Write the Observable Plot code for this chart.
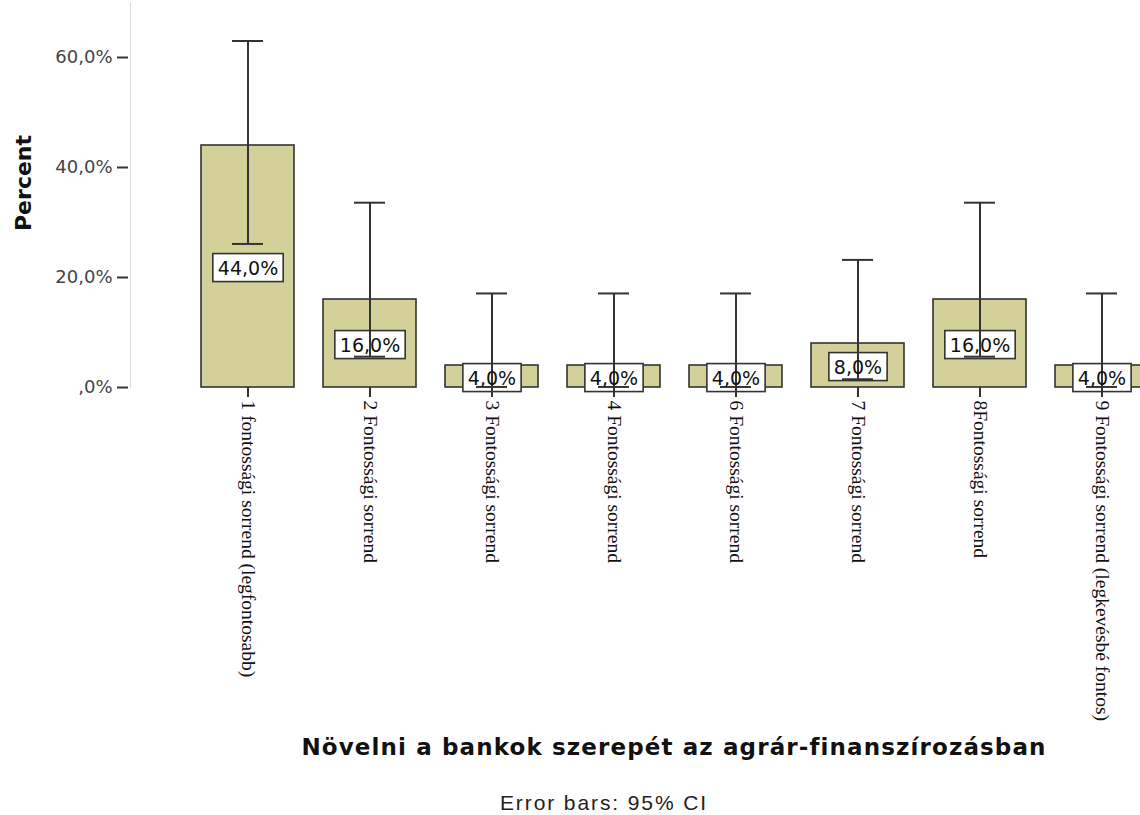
<!DOCTYPE html>
<html><head><meta charset="utf-8">
<script src="https://cdn.jsdelivr.net/npm/d3@7"></script>
<script src="https://cdn.jsdelivr.net/npm/@observablehq/plot@0.6"></script>
<style>
html,body{margin:0;padding:0;background:#fff;overflow:hidden;width:1140px;height:815px;}
#wrap{position:relative;width:1140px;height:815px;overflow:hidden;}
#chart{position:absolute;left:0;top:0;}
#title{position:absolute;left:130px;width:1088px;top:736px;text-align:center;font-family:"DejaVu Sans";font-weight:bold;font-size:23px;line-height:23px;letter-spacing:1.12px;color:#111;white-space:nowrap;}
#caption{position:absolute;left:400px;width:408px;top:792px;text-align:center;font-family:"Liberation Sans";font-size:21px;line-height:21px;letter-spacing:1.9px;color:#222;white-space:nowrap;}
</style>
</head><body>
<div id="wrap">
  <div id="chart"></div>
  <div id="title"></div>
  <div id="caption"></div>
</div>
<script>
const categories = [
  "1 fontossági sorrend (legfontosabb)",
  "2 Fontossági sorrend",
  "3 Fontossági sorrend",
  "4 Fontossági sorrend",
  "6 Fontossági sorrend",
  "7 Fontossági sorrend",
  "8Fontossági sorrend",
  "9 Fontossági sorrend (legkevésbé fontos)"
];
const percents = [44.0, 16.0, 4.0, 4.0, 4.0, 8.0, 16.0, 4.0];
const ciLow  = [26.1, 5.6, 0.1, 0.1, 0.1, 1.5, 5.6, 0.1];
const ciHigh = [63.0, 33.6, 17.1, 17.1, 17.1, 23.2, 33.6, 17.1];
const valueLabels = ["44,0%", "16,0%", "4,0%", "4,0%", "4,0%", "8,0%", "16,0%", "4,0%"];
const yTicks = [0, 20, 40, 60];
const yTickLabels = [",0%", "20,0%", "40,0%", "60,0%"];
const yAxisTitle = "Percent";
const xAxisTitle = "Növelni a bankok szerepét az agrár-finanszírozásban";
const captionText = "Error bars: 95% CI";

const data = categories.map((c, i) => ({cat: c, value: percents[i], lo: ciLow[i], hi: ciHigh[i], label: valueLabels[i]}));

const chart = Plot.plot({
  width: 1160,
  height: 720,
  marginTop: 2,
  marginBottom: 333,
  marginLeft: 130,
  marginRight: 11,
  style: {maxWidth: "none", background: "#fff", overflow: "visible"},
  x: {domain: categories, range: [199.5, 1148.5], paddingInner: 0.24, paddingOuter: 0},
  y: {domain: [0, 70]},
  marks: [
    Plot.frame({anchor: "left", stroke: "#dcdcdc", strokeWidth: 1}),
    Plot.barY(data, {x: "cat", y: "value", fill: "#d4d09a", stroke: "#333", strokeWidth: 1.6}),
    Plot.ruleX(data, {x: "cat", y1: "lo", y2: "hi", stroke: "#333", strokeWidth: 2, className: "errbar"}),
    Plot.tickY(data, {x: "cat", y: "hi", stroke: "#333", strokeWidth: 2, insetLeft: 31, insetRight: 31}),
    Plot.tickY(data, {x: "cat", y: "lo", stroke: "#333", strokeWidth: 2, insetLeft: 31, insetRight: 31}),
    Plot.text(data, {x: "cat", y: d => d.value / 2, text: "label", dy: 2, fontSize: 19, fontFamily: "DejaVu Sans", fill: "#111", className: "vlabel"}),
    Plot.axisY({ticks: yTicks, tickFormat: d => yTickLabels[yTicks.indexOf(d)], tickSize: 11, tickPadding: 5, dx: -2, fontSize: 18, fontFamily: "DejaVu Sans", fill: "#444", stroke: "#333", strokeWidth: 2, label: null}),
    Plot.axisX({tickRotate: 90, tickSize: 10, tickPadding: 3, fontSize: 19.5, fontFamily: "Liberation Serif", fill: "#111", stroke: "#333", strokeWidth: 2, label: null}),
    Plot.text([yAxisTitle], {frameAnchor: "left", textAnchor: "middle", rotate: -90, dx: -107, dy: -12, fontSize: 22, fontWeight: "bold", fontFamily: "DejaVu Sans", fill: "#111"})
  ]
});
document.getElementById("chart").append(chart);
document.getElementById("title").textContent = xAxisTitle;
document.getElementById("caption").textContent = captionText;

// white boxes behind value labels, sized from the rendered text
const ns = "http://www.w3.org/2000/svg";
const texts = chart.querySelectorAll("g.vlabel text");
const err = chart.querySelector("g.errbar");
const boxes = document.createElementNS(ns, "g");
texts.forEach(t => {
  const b = t.getBBox();
  const r = document.createElementNS(ns, "rect");
  r.setAttribute("x", b.x - 5);
  r.setAttribute("y", b.y - 3);
  r.setAttribute("width", b.width + 10);
  r.setAttribute("height", b.height + 6);
  r.setAttribute("fill", "#fff");
  r.setAttribute("stroke", "#333");
  r.setAttribute("stroke-width", "1.6");
  const tr = t.getAttribute("transform");
  const ptr = t.parentNode.getAttribute("transform");
  r.setAttribute("transform", (ptr || "") + " " + (tr || ""));
  boxes.appendChild(r);
});
if (err) err.parentNode.insertBefore(boxes, err);
</script>
</body></html>
